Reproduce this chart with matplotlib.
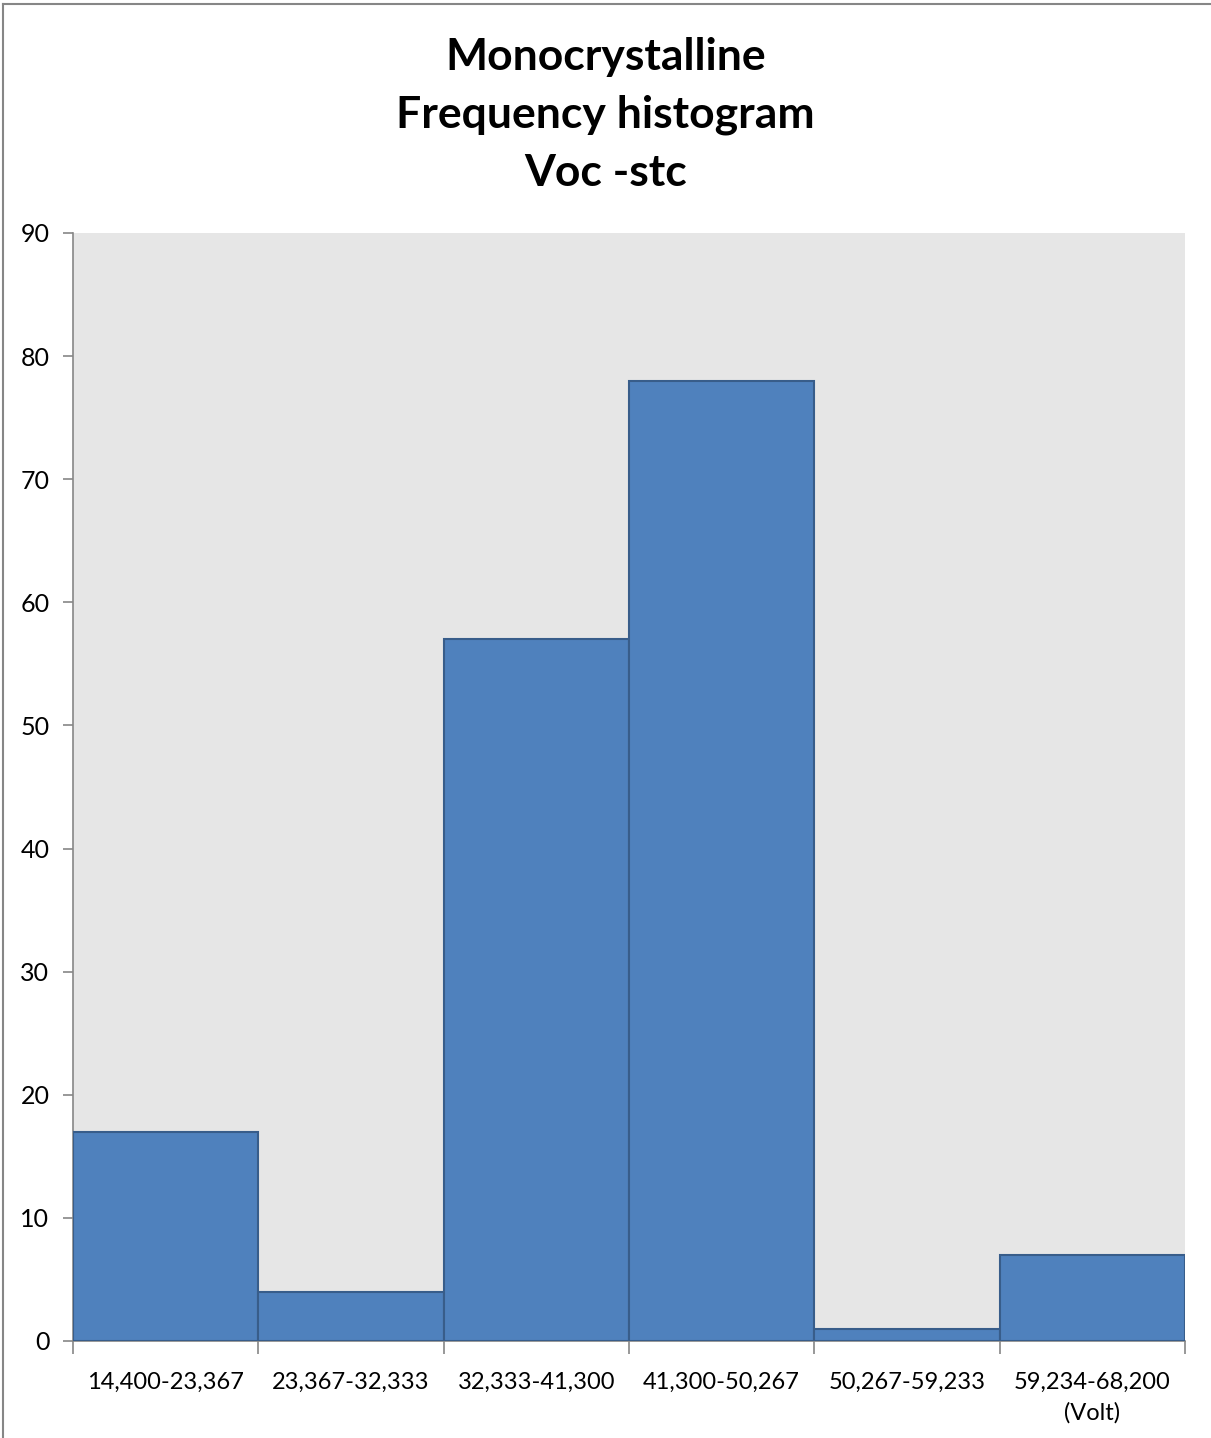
import matplotlib.pyplot as plt
import numpy as np
from matplotlib.lines import Line2D

# bins (Volt) and frequencies
bin_labels = ["14,400-23,367", "23,367-32,333", "32,333-41,300", "41,300-50,267",
              "50,267-59,233", "59,234-68,200\n(Volt)"]
counts = [17, 4, 57, 78, 1, 7]
y_ticks = [0, 10, 20, 30, 40, 50, 60, 70, 80, 90]

plt.rcParams['font.family'] = ['Lato', 'DejaVu Sans']

fig = plt.figure(figsize=(12.11, 14.38), dpi=100)
ax = fig.add_axes([73/1211, 1 - 1341/1438, (1185 - 73)/1211, (1341 - 233)/1438])

x = np.arange(len(counts))
ax.bar(x, counts, width=1.0, align='edge', color='#4f81bd', edgecolor='#385d8a', linewidth=1.5, zorder=3)

ax.set_facecolor('#e6e6e6')
ax.set_xlim(0, len(counts))
ax.set_ylim(0, 90)
ax.set_yticks(y_ticks)
ax.tick_params(axis='y', labelsize=18, length=7, width=1.2, color='#868686', pad=10)

# ticks at bin edges, labels centred in bins
ax.set_xticks(np.arange(len(counts) + 1))
ax.set_xticklabels([])
ax.set_xticks(x + 0.5, minor=True)
ax.set_xticklabels(bin_labels, minor=True, linespacing=1.55)
ax.tick_params(axis='x', which='major', length=9, width=1.2, color='#868686')
ax.tick_params(axis='x', which='minor', length=0, labelsize=17, pad=22)

for s in ['top', 'right']:
    ax.spines[s].set_visible(False)
for s in ['left', 'bottom']:
    ax.spines[s].set_color('#868686')
    ax.spines[s].set_linewidth(1.2)

fig.text(0.5, 1 - 115/1438, "Monocrystalline\nFrequency histogram\nVoc -stc",
         ha='center', va='center', fontsize=32, fontweight='bold', linespacing=1.55)

# outer chart border (left and top visible)
fig.add_artist(Line2D([3/1211, 3/1211], [0, 1 - 4/1438], transform=fig.transFigure, color='#868686', lw=1.5))
fig.add_artist(Line2D([3/1211, 1], [1 - 4/1438, 1 - 4/1438], transform=fig.transFigure, color='#868686', lw=1.5))

fig.savefig('out.png', dpi=100)
